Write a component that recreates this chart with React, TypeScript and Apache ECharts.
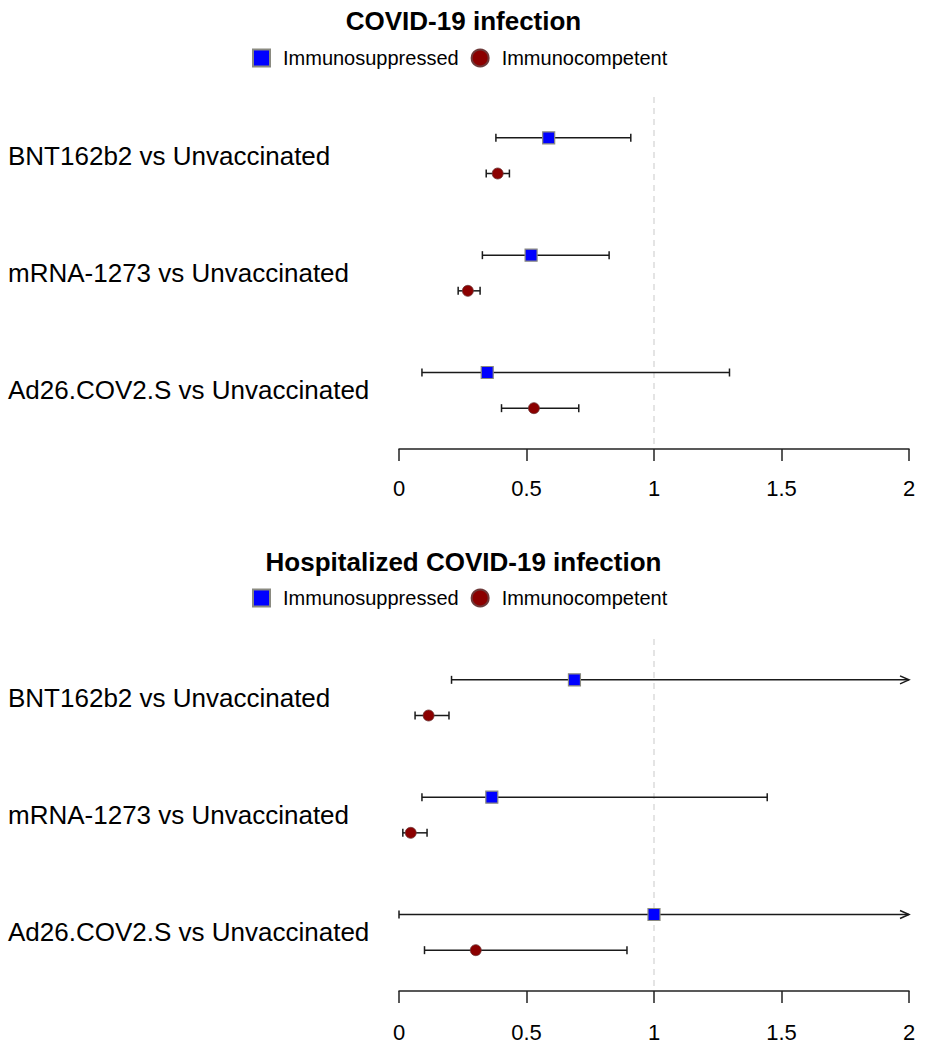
import React, { useEffect, useRef } from "react";
import * as echarts from "echarts";

const comparisons = [
  "BNT162b2 vs Unvaccinated",
  "mRNA-1273 vs Unvaccinated",
  "Ad26.COV2.S vs Unvaccinated",
];
const groups = ["Immunosuppressed", "Immunocompetent"];
const panelTitles = ["COVID-19 infection", "Hospitalized COVID-19 infection"];

// Panel 1: COVID-19 infection
const infIS_est = [0.587, 0.518, 0.346];
const infIS_lo = [0.38, 0.327, 0.09];
const infIS_hi = [0.909, 0.824, 1.296];
const infIC_est = [0.387, 0.27, 0.529];
const infIC_lo = [0.342, 0.232, 0.402];
const infIC_hi = [0.433, 0.318, 0.705];

// Panel 2: Hospitalized COVID-19 infection (upper limits beyond 2 are drawn as arrows)
const hosIS_est = [0.688, 0.364, 1.0];
const hosIS_lo = [0.206, 0.09, 0.0];
const hosIS_hi = [2.6, 1.444, 3.0];
const hosIC_est = [0.116, 0.046, 0.301];
const hosIC_lo = [0.063, 0.015, 0.1];
const hosIC_hi = [0.196, 0.11, 0.894];

const X_MAX = 2;
const OFFSET = 0.152; // vertical offset of each group within a comparison row
const FONT = "Liberation Sans, Arial, sans-serif";

function renderBar(params: any, api: any) {
  const lo = api.value(0);
  const hi = api.value(1);
  const y = api.value(2);
  const hiC = Math.min(hi, X_MAX);
  const p1 = api.coord([lo, y]);
  const p2 = api.coord([hiC, y]);
  const cap = 4;
  const style = { stroke: "#1a1a1a", lineWidth: 1.5, fill: "none" };
  const children: any[] = [
    { type: "line", shape: { x1: p1[0], y1: p1[1], x2: p2[0], y2: p2[1] }, style },
    { type: "line", shape: { x1: p1[0], y1: p1[1] - cap, x2: p1[0], y2: p1[1] + cap }, style },
  ];
  if (hi <= X_MAX) {
    children.push({
      type: "line",
      shape: { x1: p2[0], y1: p2[1] - cap, x2: p2[0], y2: p2[1] + cap },
      style,
    });
  } else {
    children.push({
      type: "polyline",
      shape: {
        points: [
          [p2[0] - 9, p2[1] - 4],
          [p2[0], p2[1]],
          [p2[0] - 9, p2[1] + 4],
        ],
      },
      style,
    });
  }
  return { type: "group", children };
}

function panelSeries(
  idx: number,
  isEst: number[], isLo: number[], isHi: number[],
  icEst: number[], icLo: number[], icHi: number[]
) {
  const xAxisIndex = idx;
  const yAxisIndex = idx * 2;
  const isBars = isLo.map((l, k) => [l, isHi[k], k + 0.5 - OFFSET]);
  const icBars = icLo.map((l, k) => [l, icHi[k], k + 0.5 + OFFSET]);
  const isPts = isEst.map((v, k) => [v, k + 0.5 - OFFSET]);
  const icPts = icEst.map((v, k) => [v, k + 0.5 + OFFSET]);
  return [
    {
      type: "custom",
      name: "ci-is-" + idx,
      xAxisIndex,
      yAxisIndex,
      renderItem: renderBar,
      encode: { x: [0, 1], y: 2 },
      data: isBars,
      z: 2,
      silent: true,
    },
    {
      type: "custom",
      name: "ci-ic-" + idx,
      xAxisIndex,
      yAxisIndex,
      renderItem: renderBar,
      encode: { x: [0, 1], y: 2 },
      data: icBars,
      z: 2,
      silent: true,
    },
    {
      type: "scatter",
      name: groups[0],
      xAxisIndex,
      yAxisIndex,
      symbol: "rect",
      symbolSize: 12,
      itemStyle: { color: "#0000ff", borderColor: "#8a8a80", borderWidth: 1.2, opacity: 1 },
      data: isPts,
      z: 4,
      markLine: {
        silent: true,
        symbol: "none",
        label: { show: false },
        lineStyle: { type: [6, 5], color: "#dcdcdc", width: 1.5 },
        data: [{ xAxis: 1 }],
        z: 1,
      },
    },
    {
      type: "scatter",
      name: groups[1],
      xAxisIndex,
      yAxisIndex,
      symbol: "circle",
      symbolSize: 11,
      itemStyle: { color: "#8b0000", borderColor: "#6e3a3a", borderWidth: 0.8, opacity: 1 },
      data: icPts,
      z: 4,
    },
  ];
}

function xAxisFor(gridIndex: number, margin: number) {
  return {
    type: "value",
    gridIndex,
    min: 0,
    max: X_MAX,
    interval: 0.5,
    position: "bottom",
    axisLine: { show: true, onZero: false, lineStyle: { color: "#222", width: 1.5 } },
    axisTick: { show: true, inside: false, length: 12, lineStyle: { color: "#222", width: 1.5 } },
    axisLabel: { color: "#000", fontSize: 22, fontFamily: FONT, margin },
    splitLine: { show: false },
  };
}

function yAxesFor(gridIndex: number) {
  return [
    { type: "value", gridIndex, min: 0, max: 3, inverse: true, show: false },
    {
      type: "category",
      gridIndex,
      data: comparisons,
      inverse: true,
      position: "left",
      axisLine: { show: false },
      axisTick: { show: false },
      splitLine: { show: false },
      axisLabel: {
        color: "#000",
        fontSize: 26,
        fontFamily: FONT,
        align: "left",
        margin: 391,
        padding: [3, 0, 0, 0],
      },
    },
  ];
}

function legendFor(top: number) {
  return {
    data: groups,
    top,
    left: 247,
    itemWidth: 17,
    itemHeight: 17,
    itemGap: 12,
    textStyle: { color: "#000", fontSize: 20, fontFamily: FONT, padding: [0, 0, 0, 8] },
  };
}

export default function App() {
  const ref = useRef<HTMLDivElement>(null);
  useEffect(() => {
    document.body.style.margin = "0";
    if (!ref.current) return;
    const chart = echarts.init(ref.current, undefined, { renderer: "svg" });
    chart.setOption({
      animation: false,
      backgroundColor: "#fff",
      title: [
        {
          text: panelTitles[0],
          left: "center",
          top: 3,
          textStyle: { fontSize: 26, fontWeight: "bold", color: "#000", fontFamily: FONT },
        },
        {
          text: panelTitles[1],
          left: "center",
          top: 544,
          textStyle: { fontSize: 26, fontWeight: "bold", color: "#000", fontFamily: FONT },
        },
      ],
      legend: [legendFor(43), legendFor(583)],
      grid: [
        { left: 399, right: 18, top: 97, height: 352 },
        { left: 399, right: 18, top: 639, height: 352 },
      ],
      xAxis: [xAxisFor(0, 28), xAxisFor(1, 30)],
      yAxis: [...yAxesFor(0), ...yAxesFor(1)],
      series: [
        ...panelSeries(0, infIS_est, infIS_lo, infIS_hi, infIC_est, infIC_lo, infIC_hi),
        ...panelSeries(1, hosIS_est, hosIS_lo, hosIS_hi, hosIC_est, hosIC_lo, hosIC_hi),
      ],
    });
    return () => chart.dispose();
  }, []);
  return <div ref={ref} style={{ width: 927, height: 1050 }} />;
}
